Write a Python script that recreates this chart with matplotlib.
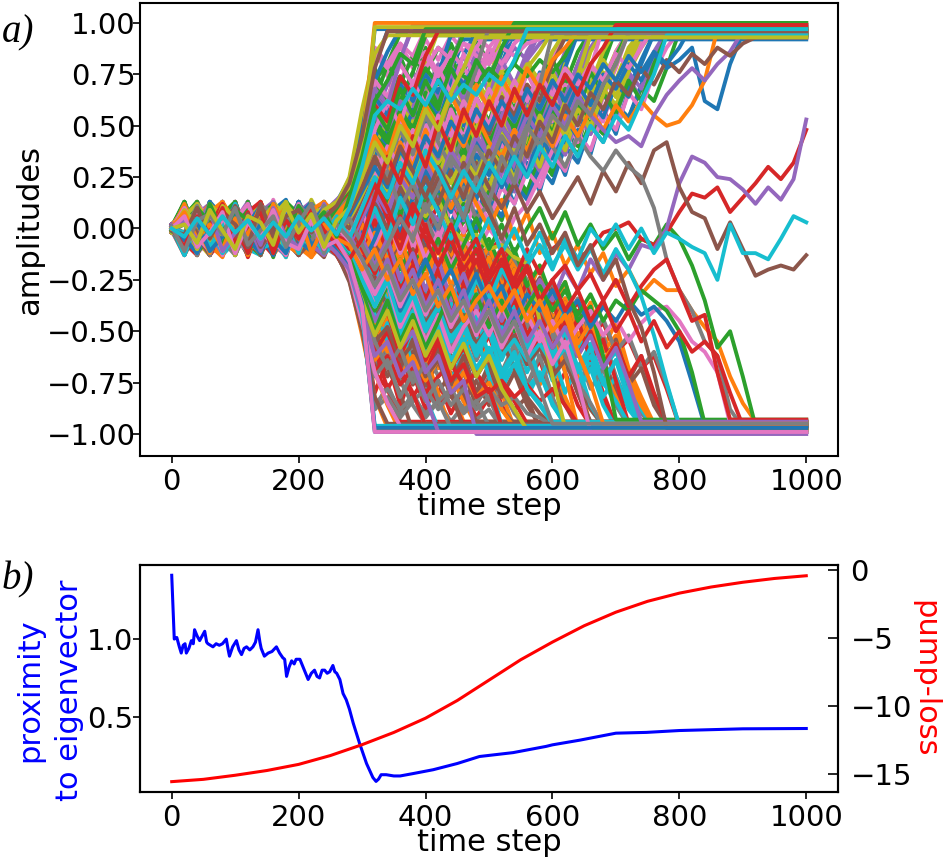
import matplotlib
matplotlib.use("Agg")
import matplotlib.pyplot as plt

# ---------------- data ----------------
# panel a: amplitudes on a 20-step time grid (hundredths); a shorter list means the
# trajectory froze at its last value and stays there until the final time step
time_grid = list(range(0, 1001, 20))
final_step = 1000

traj_p00 = [0,13,-8,4,-13,9,-2,12,-10,5,-6,13,-4,8,4,14,0,18,4,22,8,16,2,20,6,24,10,30,16,38,26,50,70,96]
traj_p01 = [1,-10,6,-13,3,11,-7,-12,9,-4,12,-11,2,-8,-6,-16,2,-20,-6,-24,-10,-18,-4,-22,-8,-26,-12,-32,-18,-40,-28,-52,-72,-96]
traj_p02 = [-1,7,-13,10,2,-9,13,-5,-11,8,-1,10,-13,6,-4,-14,-28,-12,-32,-18,-8,-22,-10,4,-2,14,4,24,16,34,28,48,40,62,80,97]
traj_p03 = [0,-9,12,-6,-12,7,4,-13,11,-3,-10,13,-7,1,8,20,32,16,36,22,10,26,12,-2,4,-12,-4,-22,-16,-34,-28,-48,-40,-62,-80,-96]
traj_p04 = [2,-5,11,-12,8,-3,-9,13,-6,10,-12,5,9,-11,10,24,40,26,44,30,48,34,52,38,56,42,60,46,64,50,70,86,97]
traj_p05 = [-1,8,-12,3,-7,13,-10,-2,12,-13,6,-5,-12,9,-12,-24,-40,-26,-44,-30,-48,-34,-52,-38,-56,-42,-60,-46,-64,-50,-70,-86,-97]
traj_p06 = [0,-11,9,6,-13,2,10,-8,-4,13,-9,3,11,-6,2,-8,6,-10,8,-6,12,-2,16,4,22,10,28,18,36,26,44,36,54,46,64,78,96]
traj_p07 = [1,12,-5,-10,9,-2,-13,6,11,-7,2,-12,8,-3,-2,8,-6,10,-8,6,-12,2,-16,-4,-22,-10,-28,-18,-36,-26,-44,-36,-54,-46,-64,-78,-96]
traj_p08 = [-2,4,-9,13,-11,7,1,-12,9,-5,13,-3,-10,12,18,34,20,38,24,42,28,46,32,40,26,44,30,48,36,54,42,62,78,96]
traj_p09 = [0,-3,10,-9,12,-12,5,3,-11,11,-8,-2,13,-9,-18,-34,-20,-38,-24,-42,-28,-46,-32,-40,-26,-44,-30,-48,-36,-54,-42,-62,-78,-96]
traj_p10 = [1,10,-6,-2,12,-13,7,-9,4,11,-12,8,-4,-13,-10,-2,10,-4,12,-2,14,0,18,4,22,8,26,12,32,18,40,26,48,36,58,46,68,82,95]
traj_p11 = [-1,-13,4,11,-6,8,-11,13,-3,-8,10,-13,6,11,10,2,-10,4,-12,2,-14,0,-18,-4,-22,-8,-26,-12,-32,-18,-40,-26,-48,-36,-58,-46,-68,-82,-95]
traj_p12 = [0,6,13,-7,-3,11,-12,2,10,-9,-5,12,-11,7,12,26,50,34,56,40,60,44,54,38,58,42,62,48,66,54,72,60,78,66,84,96]
traj_p13 = [2,-7,-13,8,3,-12,11,-4,-8,12,-2,-11,10,-6,-14,-28,-50,-34,-56,-40,-60,-44,-54,-38,-58,-42,-62,-48,-66,-54,-72,-60,-78,-66,-84,-96]
traj_p14 = [-1,9,-4,-11,13,-6,3,10,-13,5,12,-7,1,13,8,0,12,-2,8,-6,10,-4,14,4,20,10,28,18,36,26,46,36,56,48,66,80,96]
traj_p15 = [0,-6,12,-2,-10,9,-13,5,7,-12,3,-9,13,-4,-8,2,-10,4,-8,8,-6,6,-12,-2,-18,-8,-26,-16,-34,-24,-44,-34,-54,-46,-64,-80,-96]
traj_p16 = [1,-12,5,9,-8,13,-3,-10,11,-1,-13,7,4,-9,4,16,30,16,34,20,38,24,30,16,34,20,40,26,46,32,52,40,60,48,68,58,76,90,96]
traj_p17 = [-2,11,-9,-4,7,-13,10,1,-11,8,-6,13,-8,2,-4,-16,-30,-16,-34,-20,-38,-24,-30,-16,-34,-20,-40,-26,-46,-32,-52,-40,-60,-48,-68,-58,-76,-90,-96]
traj_p18 = [0,-8,12,-10,4,7,-12,11,-6,-3,12,-9,6,-13,-2,10,22,8,26,12,30,16,24,10,28,16,36,24,44,34,52,44,62,54,72,86,96]
traj_p19 = [1,5,-11,13,-7,-4,11,-13,8,1,-12,10,-5,-10,-12,-22,-34,-20,-38,-24,-42,-28,-36,-22,-40,-28,-46,-34,-52,-42,-60,-50,-68,-58,-74,-86,-96]
traj_p20 = [-1,13,-2,-12,9,3,-10,12,-13,6,9,-11,2,10,16,30,44,60,48,64,52,68,56,62,48,66,52,70,58,76,64,82,96]
traj_p21 = [0,-10,7,-5,-13,12,-8,4,-12,-1,13,-7,-11,6,-16,-30,-44,-60,-48,-64,-52,-68,-56,-62,-48,-66,-52,-70,-58,-76,-64,-82,-96]
traj_p22 = [2,-6,10,-13,1,11,-9,-2,12,-10,4,13,-12,-3,6,-6,-16,-4,-20,-8,2,-12,0,12,4,18,10,26,18,34,26,44,36,52,46,60,54,68,62,78,96]
traj_p23 = [-1,8,-13,2,13,-6,-9,10,-3,-12,11,-4,8,-13,-6,6,16,4,20,8,-2,12,0,-12,-4,-18,-10,-26,-18,-34,-26,-44,-36,-52,-46,-60,-54,-68,-62,-78,-96]
traj_p24 = [0,11,-5,8,-12,-2,13,-10,6,3,-13,9,-7,12,14,30,60,72,62,76,66,80,70,84,74,86,78,88,82,90,96]
traj_p25 = [1,-9,4,-13,10,-1,-11,12,-7,-4,10,-12,5,-12,-20,-40,-60,-72,-62,-76,-66,-80,-70,-84,-74,-86,-78,-88,-82,-90,-96]
traj_p26 = [-1,3,-12,11,-4,-10,8,5,-13,12,-7,-1,10,-8,0,-10,4,18,6,22,10,26,14,30,18,34,22,40,28,46,34,54,42,62,52,72,86,97]
traj_p27 = [0,12,-7,-3,11,-13,1,9,-10,6,-12,11,-2,-9,-4,10,-4,-18,-6,-22,-10,-26,-14,-30,-18,-34,-22,-40,-28,-46,-34,-54,-42,-62,-52,-72,-86,-97]
traj_p28 = [2,-11,8,-6,13,-9,-1,11,-12,2,7,-13,12,-5,8,22,36,22,40,26,44,30,48,34,52,38,56,42,60,46,64,50,68,56,74,64,80,94]
traj_p29 = [-2,6,-10,12,-3,-11,9,-7,13,-8,-5,12,-11,4,-8,-22,-36,-22,-40,-26,-44,-30,-48,-34,-52,-38,-56,-42,-60,-46,-64,-50,-68,-56,-74,-64,-80,-94]
traj_p30 = [0,9,-13,5,-1,12,-8,-6,10,-11,13,-3,-9,11,2,12,-2,10,-6,6,-10,4,-8,8,0,14,6,22,14,30,22,40,32,50,42,60,54,70,84,96]
traj_p31 = [1,-5,9,-12,7,-8,12,-13,3,10,-6,-11,9,-2,-10,2,-12,0,-16,-2,-20,-6,-14,-2,-20,-8,-28,-16,-36,-26,-44,-34,-52,-44,-60,-52,-70,-84,-96]
traj_p32 = [-1,12,-3,-9,11,-12,4,8,-11,13,-6,2,12,-10,10,26,46,30,50,34,54,40,60,46,64,52,70,58,76,64,82,70,86,96]
traj_p33 = [0,-12,10,-4,-8,13,-6,-11,7,-2,12,-13,-5,8,-12,-26,-46,-30,-50,-34,-54,-40,-60,-46,-64,-52,-70,-58,-76,-64,-82,-70,-86,-96]
traj_p34 = [1,7,-9,13,-12,5,-4,11,-8,-13,9,4,-10,13,22,38,24,12,28,14,32,18,36,22,40,26,44,30,48,34,54,40,60,46,66,54,74,62,82,96]
traj_p35 = [-1,-8,11,-6,12,-2,-13,8,-10,5,-12,10,-4,-13,-22,-38,-24,-12,-28,-14,-32,-18,-36,-22,-40,-26,-44,-30,-48,-34,-54,-40,-60,-46,-66,-54,-74,-62,-82,-96]
traj_p36 = [0,4,-11,9,-6,13,-10,2,12,-9,-2,11,-13,7,6,16,4,-8,6,-10,4,-6,10,-2,14,4,20,12,28,20,36,28,46,38,56,48,66,58,76,88,96]
traj_p37 = [2,-13,6,-2,10,-12,8,-7,-11,4,12,-9,1,-6,-14,-4,8,-4,10,-6,6,-10,4,-14,-4,-20,-10,-28,-18,-36,-26,-44,-34,-52,-44,-60,-52,-68,-60,-76,-96]
traj_p38 = [-1,10,-7,-12,6,11,-4,13,-9,-5,10,-12,8,3,14,28,42,30,48,34,52,38,56,42,58,46,62,50,66,54,70,58,76,64,82,72,88,96]
traj_p39 = [0,-6,13,-11,-2,8,-10,-13,5,12,-8,6,-12,-7,-16,-30,-42,-30,-48,-34,-52,-38,-56,-42,-58,-46,-62,-50,-66,-54,-70,-58,-76,-64,-82,-72,-88,-96]
traj_p40 = [1,-12,3,7,-10,12,-13,6,-4,11,-8,-12,13,-2,8,18,30,14,34,18,24,10,28,14,32,20,38,26,44,32,52,42,60,50,68,82,96]
traj_p41 = [-2,9,-6,-13,12,-4,10,-11,2,-9,13,-3,-10,11,-8,-18,-30,-14,-34,-18,-24,-10,-28,-14,-32,-20,-38,-26,-44,-32,-52,-42,-60,-50,-68,-82,-96]
traj_p42 = [0,7,-10,4,13,-8,-3,11,-12,9,2,-11,6,12,16,32,56,42,64,50,70,56,74,62,80,68,86,96]
traj_p43 = [1,-4,12,-9,-13,3,8,-12,11,-6,-13,5,-9,-12,-18,-36,-56,-42,-64,-50,-70,-56,-74,-62,-80,-68,-86,-96]
traj_p44 = [-1,11,-13,8,-5,-11,12,-3,7,-12,10,1,-8,13,4,-6,6,-8,4,-2,10,4,16,8,22,14,30,20,38,28,46,36,56,46,66,56,76,68,86,96]
traj_p45 = [0,-7,9,-12,11,5,-13,10,-2,-9,12,-6,3,-12,-4,6,-6,8,-4,2,-10,-4,-16,-8,-22,-14,-30,-20,-38,-28,-46,-36,-56,-46,-66,-56,-76,-68,-86,-96]
traj_p46 = [2,5,-12,-6,10,-9,13,-11,-1,12,-4,-13,9,2,10,24,12,30,16,36,22,42,28,46,34,52,40,58,46,64,52,70,60,78,68,86,96]
traj_p47 = [-1,-10,13,3,-8,11,-12,7,-6,-13,9,-2,-11,-4,-10,-24,-12,-30,-16,-36,-22,-42,-28,-46,-34,-52,-40,-58,-46,-64,-52,-70,-60,-78,-68,-86,-96]
traj_p48 = [0,13,-4,-10,9,-13,6,3,-11,8,-7,12,-1,-10,-2,6,20,6,26,12,32,18,40,26,34,20,38,24,44,30,50,38,58,48,68,60,76,88,97]
traj_p49 = [1,-8,10,-13,2,9,-11,-5,13,-7,-3,10,-12,4,-6,-18,-20,-6,-26,-12,-32,-18,-40,-26,-34,-20,-38,-24,-44,-30,-50,-38,-58,-48,-68,-60,-76,-88,-97]

traj_m00 = [1,-12,9,-5,13,-9,4,11,-13,6,-2,12,-8,5,12,30,50,32,55,36,62,44,68,50,74,58,80,96]
traj_m01 = [0,10,-13,4,-7,12,-11,-3,9,-14,5,-9,13,-6,-14,-30,-48,-30,-54,-36,-60,-42,-66,-50,-72,-58,-80,-97]
traj_m02 = [-1,4,-10,13,-6,2,-12,9,-4,12,-10,6,-2,13,20,40,78,62,84,68,88,72,90,76,92,80,95]
traj_m03 = [2,-8,12,-11,3,-5,10,-13,8,-3,-11,11,-7,-13,-22,-44,-80,-64,-86,-70,-88,-74,-90,-78,-92,-82,-96]
traj_m04 = [0,13,-7,2,-12,10,-4,8,-9,-1,13,-7,10,-3,2,12,20,5,25,10,30,15,36,20,42,26,48,32,55,40,64,50,74,88,97]
traj_m05 = [-1,-11,5,-6,13,-10,1,-7,12,-12,2,9,-13,4,-2,-12,-20,-5,-25,-10,-32,-15,-38,-22,-45,-28,-50,-35,-58,-42,-66,-52,-76,-88,-96]
traj_m06 = [1,7,-12,10,-2,-9,13,-6,3,11,-11,4,-5,12,18,36,66,50,72,56,76,60,80,66,84,70,88,94]
traj_m07 = [0,-6,11,-13,7,-3,-12,10,-1,-9,12,-4,-10,7,-16,-36,-66,-50,-72,-58,-76,-62,-80,-66,-84,-72,-88,-95]
traj_m08 = [-2,11,-3,-10,8,4,-13,12,-7,1,10,-12,6,9,8,22,38,22,44,28,50,34,56,40,62,46,66,52,70,58,76,64,80,70,86,97]
traj_m09 = [1,-9,13,-4,-11,9,-7,2,-13,10,-6,-1,11,-11,-10,-24,-36,-20,-42,-26,-48,-32,-54,-40,-60,-46,-64,-50,-70,-56,-74,-62,-80,-68,-86,-97]
traj_m10 = [0,3,-11,12,-8,6,10,-13,5,-4,13,-9,2,-7,6,18,56,40,62,46,70,54,76,92]
traj_m11 = [-1,12,-4,-9,11,-13,6,-2,-10,13,-8,3,-12,-4,-10,-26,-56,-42,-64,-48,-70,-56,-78,-94]
traj_m12 = [2,-7,10,-1,-13,8,-5,12,-11,3,-6,10,-13,11,14,26,8,24,6,28,12,32,16,38,22,44,30,52,38,60,46,68,56,76,66,84,96]
traj_m13 = [0,5,-12,8,-3,13,-9,-6,11,-2,-13,7,-4,-10,-6,-14,4,-12,6,-16,2,-20,-4,-26,-10,-32,-18,-40,-26,-48,-34,-56,-44,-64,-54,-74,-95]
traj_m14 = [-1,-13,7,4,-9,12,-2,-11,10,-5,8,13,-9,3,10,24,44,26,50,32,56,38,46,30,52,36,58,42,64,48,70,56,78,94]
traj_m15 = [1,9,-2,-12,6,-6,13,-10,-3,12,-11,5,-7,-12,-20,-38,-44,-26,-50,-32,-56,-38,-46,-30,-52,-36,-58,-44,-64,-50,-70,-58,-78,-95]
traj_m16 = [0,-5,13,-9,2,11,-12,7,-3,-10,11,-5,13,-1,16,34,88,74,90,78,92,82,94,86,93,88,96]
traj_m17 = [2,6,-8,11,-12,-4,9,-13,4,7,-12,1,-9,-13,-24,-48,-88,-76,-90,-80,-92,-84,-94,-86,-93,-88,-97]
traj_m18 = [-1,10,-6,-13,5,12,-8,1,13,-11,-3,9,-6,12,20,40,60,46,66,52,70,58,74,60,72,62,78,66,82,70,86,94]
traj_m19 = [0,-10,8,3,-13,-6,11,-9,-2,10,-12,-7,8,-12,-18,-38,-60,-46,-66,-52,-70,-58,-74,-60,-72,-62,-78,-66,-82,-70,-86,-95]
traj_m20 = [1,-3,9,-11,13,-7,5,-12,8,2,-9,12,-11,4,4,10,-4,12,-2,16,4,20,8,26,14,32,20,38,26,46,34,54,44,62,54,70,64,80,95]
traj_m21 = [-2,11,-7,5,-10,-1,12,-9,6,-13,7,-4,10,-8,-8,2,-10,6,-14,2,-18,-4,-22,-8,-28,-14,-34,-20,-40,-28,-48,-36,-56,-46,-64,-56,-74,-86,-96]
traj_m22 = [0,8,-12,-4,10,-11,3,13,-8,-2,12,-6,4,-13,-8,6,30,16,36,22,42,28,48,34,54,40,60,48,66,54,72,62,80,95]
traj_m23 = [1,-6,13,-10,-3,9,-13,2,11,-7,-12,8,-3,11,4,-8,-30,-16,-36,-22,-42,-28,-48,-34,-54,-40,-60,-48,-66,-54,-72,-62,-80,-96]
traj_m24 = [-1,12,2,-8,-13,7,10,-5,-11,13,-2,-9,11,-5,8,20,70,56,74,60,78,64,82,70,86,74,88,96]
traj_m25 = [0,-13,-1,9,-8,13,-4,-11,7,-6,3,-13,9,-2,-10,-24,-70,-56,-74,-60,-78,-64,-82,-70,-86,-74,-88,-96]
traj_m26 = [2,5,-11,13,-3,-9,6,12,-12,4,-7,10,-3,8,12,28,48,62,52,68,58,72,64,78,70,84,78,90,97]
traj_m27 = [-1,-4,12,-7,9,-13,2,8,-5,-11,13,-10,6,-9,-14,-30,-48,-62,-52,-68,-58,-72,-64,-78,-70,-84,-78,-90,-97]
traj_m28 = [0,11,-9,1,12,-6,-10,9,-1,-13,6,11,-9,2,6,16,34,20,40,26,46,32,40,26,46,32,52,38,58,44,64,50,70,58,76,64,84,96]
traj_m29 = [1,-11,6,-2,-9,13,-6,-12,10,3,-10,-4,12,-6,-10,-22,-34,-20,-40,-26,-46,-32,-40,-26,-46,-32,-52,-38,-58,-44,-64,-50,-70,-58,-76,-64,-84,-96]
traj_m30 = [0,-8,4,10,-12,-3,13,-4,7,-10,1,13,-7,6,14,32,52,38,60,44,66,50,72,84,96]
traj_m31 = [-2,7,-5,-12,11,3,-9,13,-13,-4,9,-11,2,-10,-16,-34,-52,-38,-60,-44,-66,-50,-72,-84,-96]
traj_m32 = [1,13,-10,-6,4,10,-7,-13,12,-3,-8,7,13,-4,2,14,26,12,30,16,34,20,38,24,42,28,46,34,52,40,58,46,62,50,66,56,72,62,80,94]
traj_m33 = [0,-2,8,-13,-5,12,-11,6,-9,13,-1,-12,-8,5,-4,-14,-26,-12,-30,-16,-34,-20,-38,-24,-42,-28,-46,-34,-52,-40,-58,-46,-62,-50,-66,-56,-72,-62,-80,-95]
traj_m34 = [-1,6,-12,8,3,-11,12,-8,-4,9,-13,4,10,-11,6,24,62,48,68,54,72,58,76,62,80,66,82,70,86,96]
traj_m35 = [1,-10,11,-3,-7,6,-13,10,-12,-1,8,-9,-13,3,-12,-28,-62,-48,-68,-54,-72,-58,-76,-62,-80,-66,-82,-70,-86,-96]
traj_m36 = [0,9,-4,12,-10,-2,8,-11,13,-7,-4,12,-1,-9,2,14,40,26,46,32,52,38,58,44,64,50,70,56,76,62,82,95]
traj_m37 = [2,-12,4,-8,13,-9,-3,11,-6,-12,10,-2,-11,8,-6,-18,-40,-26,-46,-32,-52,-38,-58,-44,-64,-50,-70,-56,-76,-62,-82,-96]
traj_m38 = [-1,-7,13,-5,-12,11,-1,-9,6,12,-10,-3,9,-12,10,26,18,36,22,42,28,50,36,56,42,62,48,68,54,74,60,80,66,86,96]
traj_m39 = [0,12,-6,7,-11,2,-13,9,3,-8,11,-13,-5,10,-8,-22,-18,-36,-22,-42,-28,-50,-36,-56,-42,-62,-48,-68,-54,-74,-60,-80,-66,-86,-96]

traj_n00 = [0,11,-4,13,6,-8,12,-1,9,14,-3,10,5,13,24,50,80,96]
traj_n01 = [1,-12,3,-8,-14,5,-10,-3,-13,2,-9,-14,-6,-12,-25,-52,-82,-97]
traj_n02 = [-1,6,13,-2,9,-9,11,4,-6,13,7,-4,12,3,15,35,62,80,95]
traj_n03 = [0,-4,8,-13,-1,10,-7,-12,5,-9,-2,9,-11,-5,-14,-32,-58,-78,-94]
traj_n04 = [2,-9,7,12,-5,4,13,-7,6,-1,12,-9,8,14,20,30,55,70,82,98]
traj_n05 = [-1,10,-6,1,-13,8,-4,-10,12,-6,-13,3,-8,-2,-16,-30,-50,-68,-80,-99]
traj_n06 = [0,-3,12,5,-11,9,1,-6,14,-2,6,11,-7,9,12,28,48,60,72,84,97]
traj_n07 = [1,7,-11,4,-6,-13,3,9,-8,-1,-12,6,-4,-13,-20,-36,-55,-65,-74,-86,-95]
traj_n08 = [-1,12,-5,8,2,-10,10,-3,13,5,-8,14,1,6,10,22,40,52,45,65,80,96]
traj_n09 = [0,-13,5,-7,11,-2,-11,6,-5,-14,8,-3,-10,4,-8,-22,-42,-55,-48,-66,-82,-97]
traj_n10 = [1,5,-10,11,-4,7,-12,8,2,-6,13,-1,9,-4,6,18,35,48,40,58,52,75,94]
traj_n11 = [-1,-8,4,12,-9,-3,8,-13,1,10,-7,-12,5,-9,-12,-26,-45,-60,-52,-70,-62,-80,-98]
traj_n12 = [0,9,-2,-11,7,13,-6,4,-9,11,3,-5,12,0,8,20,72,80,70,84,75,88,82,95]
traj_n13 = [2,-6,11,-3,-10,6,-14,2,9,-8,-1,-12,3,-8,-10,-24,-70,-78,-68,-82,-72,-86,-80,-96]
traj_n14 = [-1,-10,4,9,-5,12,-8,6,-12,3,10,-3,7,-10,-5,10,25,40,30,48,38,55,62,78,93]
traj_n15 = [0,8,-3,-12,6,-9,11,-5,2,-13,7,-8,-14,1,-6,-15,-25,-38,-28,-42,-35,-50,-62,-80,-94]
traj_n16 = [1,-5,10,-8,13,1,-4,9,-11,7,-2,12,-6,10,16,32,85,78,88,80,86,76,84,90,88,97]
traj_n17 = [-1,11,-7,2,-12,9,-3,-11,6,-6,-13,4,-10,-6,-14,-30,-86,-78,-88,-82,-90,-84,-78,-88,-84,-96]
traj_n18 = [0,3,-12,6,10,-7,5,-13,8,1,-9,10,-2,5,4,15,20,12,28,18,35,25,42,55,48,70,95]
traj_n19 = [2,-10,6,-5,-11,3,-8,11,-4,-12,2,-6,9,-3,-8,-18,-22,-10,-30,-20,-40,-30,-48,-58,-52,-72,-96]
traj_n20 = [-1,7,-6,13,-3,-10,8,-4,11,-7,5,13,-1,8,14,28,64,55,70,62,75,66,78,70,80,74,86,98]
traj_n21 = [0,-7,10,-4,-13,5,-11,1,-6,12,-9,-2,-12,-4,-16,-30,-64,-56,-72,-62,-74,-64,-80,-70,-82,-75,-88,-97]
traj_n22 = [1,12,-3,7,-9,11,-1,5,-14,9,4,-7,11,3,10,24,50,42,58,48,62,52,66,56,70,60,74,80,94]
traj_n23 = [-2,-5,12,-8,3,-11,9,-6,-13,4,-10,7,-5,-12,-20,-38,-50,-40,-58,-46,-64,-52,-68,-58,-72,-62,-76,-84,-95]
traj_n24 = [0,-11,5,8,-7,2,12,-10,4,-4,9,-12,6,11,12,5,15,5,22,12,28,18,35,25,45,35,55,68,82,96]
traj_n25 = [1,6,-9,-2,11,-12,4,7,-10,5,-13,-3,10,-8,-4,-12,-8,-18,-6,-22,-12,-28,-18,-35,-25,-45,-55,-68,-82,-98]
traj_n26 = [-1,4,11,-9,6,-3,13,-11,2,8,-6,10,-9,4,6,15,88,80,90,84,78,88,82,90,84,80,88,84,90,92,95]
traj_n27 = [0,-9,-2,11,-6,12,-10,3,-12,-5,9,-11,1,-7,-18,-40,-88,-82,-92,-84,-78,-88,-80,-90,-84,-78,-86,-82,-90,-92,-96]
traj_n28 = [2,8,-7,4,-12,10,-5,12,-3,-10,7,-1,13,-6,3,18,40,30,52,42,60,50,66,56,72,62,76,68,80,72,86,96]
traj_n29 = [-1,-7,9,-11,3,-4,11,-9,6,-12,-1,8,-6,-10,-16,-34,-38,-28,-50,-40,-58,-48,-64,-55,-70,-60,-74,-66,-78,-70,-85,-96]
traj_n30 = [0,10,-8,5,-2,12,-9,-3,10,-6,13,-4,4,-11,-4,5,12,2,18,8,24,12,30,20,36,26,44,34,52,42,60,78,95]
traj_n31 = [1,-3,8,-12,10,-7,-1,12,-8,3,-11,6,-13,2,-6,-12,-2,-15,-5,-22,-10,-28,-16,-34,-24,-40,-30,-48,-38,-55,-45,-70,-97]
traj_n32 = [-1,13,-5,-9,7,1,-12,9,-4,11,-8,5,12,-3,9,22,68,60,74,66,78,70,82,74,70,78,72,80,74,82,76,84,97]
traj_n33 = [0,-12,4,9,-10,-4,12,-7,3,-9,10,-13,-2,-9,-22,-44,-70,-62,-76,-68,-80,-72,-66,-76,-70,-80,-74,-82,-76,-84,-78,-86,-95]
traj_n34 = [1,-6,9,-4,12,-11,3,10,-8,5,-12,7,-5,12,8,18,32,22,38,28,44,34,50,40,56,46,60,52,66,58,70,64,80,96]
traj_n35 = [-2,9,-4,-13,5,8,-9,-2,11,-11,2,-5,10,-4,-12,-26,-34,-24,-40,-30,-46,-36,-50,-42,-56,-48,-60,-52,-66,-58,-72,-64,-80,-94]
traj_n36 = [0,-2,7,-10,12,-5,-11,6,3,-9,12,-1,8,-8,-2,8,-8,5,-12,2,-15,-2,-18,-5,-12,0,-8,5,12,25,38,50,62,78,98]
traj_n37 = [1,5,-13,7,-2,11,-6,-12,8,-3,-8,12,-4,9,3,12,30,18,35,22,15,28,10,20,5,12,-5,-15,-25,-38,-50,-62,-75,-85,-96]
traj_n38 = [-1,11,2,-7,9,-13,6,1,-10,13,-4,-9,6,-1,5,14,24,15,30,20,34,24,38,28,42,32,46,36,50,40,55,45,58,50,65,80,96]
traj_n39 = [0,-11,6,3,-8,12,-3,-13,7,-5,11,-9,2,-12,-20,-36,-45,-35,-52,-42,-56,-46,-60,-50,-58,-48,-62,-54,-64,-56,-66,-58,-70,-62,-75,-84,-95]
traj_n40 = [2,-4,10,-12,4,8,-6,11,-2,-8,13,1,-5,10,22,46,72,86,97]
traj_n41 = [-1,12,-6,3,-11,7,-13,2,10,-7,-2,-14,6,-11,-22,-45,-70,-86,-99]
traj_n42 = [0,-12,6,-1,9,-7,13,-5,-10,8,2,-4,12,-2,10,26,52,44,62,76,94]
traj_n43 = [1,9,-3,-10,5,-2,-9,12,-6,-13,4,10,-7,-13,-24,-46,-60,-50,-68,-80,-96]
traj_n44 = [-2,7,-12,5,11,-3,-8,8,13,-5,7,-10,3,9,14,30,55,48,62,55,70,62,78,98]
traj_n45 = [0,-5,11,-9,2,-12,7,-4,-1,10,-13,-6,8,-5,-10,-26,-55,-48,-64,-56,-72,-64,-80,-97]
traj_n46 = [1,10,-4,3,-13,6,11,-7,-2,12,-9,4,-12,7,12,26,72,64,80,70,84,74,86,78,88,82,96]
traj_n47 = [-1,-9,7,-13,4,-5,-10,13,-8,1,-11,6,-3,-12,-18,-32,-72,-64,-82,-70,-84,-74,-86,-78,-88,-82,-97]
traj_n48 = [0,6,-11,9,-4,-9,5,12,-6,3,-10,13,-8,2,12,26,45,36,55,44,60,50,64,54,68,58,72,62,78,86,96]
traj_n49 = [1,-13,3,-6,12,-1,-12,5,-9,7,-4,-10,11,-5,-8,-20,-45,-36,-55,-44,-60,-50,-64,-54,-68,-58,-72,-62,-78,-86,-95]

traj_00 = [0,8,-3,10,4,-6,9,2,11,-2,7,12,3,10,16,38,97]
traj_01 = [1,-6,4,-9,-2,6,-11,-3,5,-8,-12,2,-7,-10,-18,-40,-98]
traj_02 = [-1,5,11,-4,3,9,-7,6,12,0,8,-5,9,4,14,30,45,38,55,48,66,58,80,95]
traj_03 = [2,-4,7,-10,1,-7,5,-12,-3,6,-9,-1,-11,-6,-18,-35,-52,-40,-62,-48,-70,-55,-74,-66,-82,-78,-96]
traj_04 = [0,-7,4,11,-2,8,-5,12,1,-9,6,10,-3,8,20,42,68,60,82,99]
traj_05 = [-1,9,-5,3,-10,6,-2,-13,4,-6,8,-9,-4,-12,-26,-50,-82,-95]
traj_06 = [1,4,-9,7,12,-3,10,-6,2,9,-8,5,11,-2,8,25,48,62,50,72,60,78,66,85,72,88,80,90,96]
traj_07 = [0,-10,3,-5,8,-12,-1,7,-9,2,-6,-11,5,-8,-15,-32,-55,-68,-58,-75,-66,-84,-97]
traj_08 = [-2,6,12,2,-5,9,4,-8,10,6,-3,11,7,12,25,58,85,94]
traj_09 = [1,-3,6,-8,2,-11,7,-4,-10,3,-7,1,-9,-3,-8,-20,-35,-22,-40,-30,-48,-38,-55,-45,-62,-50,-70,-60,-78,-85,-94]
traj_10 = [0,-5,-12,3,-8,5,-10,-2,-13,1,-6,-11,-4,-9,-20,-40,-99]
traj_11 = [1,10,-2,8,13,3,-6,9,5,12,-1,9,13,6,18,40,100]
traj_12 = [-1,3,-8,9,-4,6,-12,0,8,-7,4,-10,2,-5,-3,10,25,12,30,18,5,20,-2,10,-12,-5,-20,-10,-28,-18,-35,-26,-45,-38,-62,-93]
traj_13 = [0,7,-6,2,11,-4,8,13,-1,5,10,-8,6,11,18,38,60,52,74,65,84,96]
traj_14 = [2,-9,5,-3,-12,4,-7,9,-11,-2,6,-8,-13,-1,-12,-28,-45,-35,-58,-50,-70,-62,-80,-74,-100]
traj_15 = [-1,2,9,-7,5,-3,11,-9,3,8,-4,10,-6,4,10,20,32,22,40,28,46,35,52,40,58,46,64,55,70,62,80,93]
traj_16 = [0,8,-4,-11,6,-2,-9,4,-6,-13,3,-5,-10,-7,-22,-46,-70,-85,-96]
traj_17 = [1,-8,6,3,-10,7,-4,11,8,-3,12,4,-2,9,12,26,40,30,48,36,55,44,66,58,78,98]
traj_18 = [0,4,-10,7,-1,-8,10,-5,1,-11,5,-3,8,-6,-2,8,20,10,24,12,6,14,0,-6,-3,-10,-8,-14,-17,-45,-72,-97]
traj_19 = [-1,-6,8,2,-12,-4,6,-10,-7,3,-9,-2,-12,-7,-20,-42,-96]
traj_20 = [0,3,-7,10,-4,6,-10,2,8,-6,11,-3,4,-8,-10,-18,-5,10,-4,15,28,18,35,25,42,35,50,40,58,48,62,55,70,60,75,68,80,72,85,78,82,88,62,58,80,95]
traj_21 = [1,-7,2,-12,5,-4,9,-9,-2,7,-10,3,-6,2,-5,5,20,8,30,15,35,22,10,25,12,0,14,-5,8,-12,-2,-18,-8,-22,-12,-28,-20,-32,-25,-30,-30,-40,-48,-55,-72,-85,-94]
traj_22 = [-1,5,-3,8,-9,1,6,-12,4,-5,10,-7,1,-4,-12,-28,-40,-28,-15,-30,-18,-5,-20,-8,5,-10,2,-12,0,10,-5,8,-8,2,-10,-2,-15,-5,-8,2,-5,-18,-35,-58,-50,-72,-96]
traj_23 = [0,-4,9,-2,6,-10,3,8,-5,11,-1,-8,5,0,5,-10,-22,-8,-30,-18,-35,-20,-42,-28,-15,-30,-18,-25,-10,-22,-10,-5,-15,-10,-2,0,3,-5,-8,-2,8,17,15,20,8,15,22,30,24,32,48]
traj_24 = [1,6,-5,9,-8,3,12,-2,-9,5,-4,10,-6,3,8,-5,-18,-5,-25,-12,-30,-15,-35,-22,-40,-28,-45,-32,-38,-25,-35,-20,-30,-15,-25,-12,-20,-8,-10,0,22,35,32,25,24,19,12,20,14,24,53]
traj_25 = [-1,-5,7,-9,3,10,-4,6,-11,1,9,-6,4,-3,-15,-6,12,0,20,8,25,12,28,15,32,20,10,22,8,18,5,15,25,12,28,18,32,22,38,42,20,8,5,-10,3,-10,-23,-20,-18,-20,-13]
traj_26 = [0,9,-6,4,-11,7,-1,-8,5,-4,12,-9,6,-2,-8,-20,-38,-26,-48,-35,-55,-42,-60,-48,-40,-52,-38,-50,-42,-55,-45,-58,-48,-40,-52,-44,-55,-46,-40,-38,-45,-55,-60,-70,-95]
traj_27 = [1,-2,11,-5,2,-9,8,-3,10,-7,-1,7,-12,5,10,25,42,30,50,38,55,42,30,45,28,40,30,48,35,45,40,30,45,35,28,38,30,25,10,-15,-30,-40,-55,-62,-88,-97]
traj_28 = [-1,8,-4,12,5,-7,10,-2,6,13,-5,3,9,-1,5,15,28,18,35,25,40,30,22,35,25,40,30,48,38,55,45,62,75,94]
traj_29 = [0,2,-8,5,-3,9,-6,1,7,-10,4,-2,10,-5,-12,-25,-38,-25,-45,-32,-50,-38,-28,-40,-25,-35,-20,-30,-18,-8,-20,-5,-15,0,-8,2,-10,0,-12,-2,-5,-9,-12,-25,2,-12,-12,-15,-5,6,3]
traj_30 = [1,-3,6,-10,2,8,-5,-12,3,-7,5,-1,-9,4,-5,-15,-30,-18,-40,-28,-15,-30,-20,-35,-22,-38,-28,-45,-32,-40,-30,-42,-35,-48,-38,-45,-35,-42,-38,-45,-55,-75,-96]
traj_31 = [0,5,-9,3,10,-4,7,-10,1,8,-6,11,-3,6,12,22,35,25,42,30,48,35,50,40,55,42,35,48,38,52,40,55,45,58,48,60,52,62,55,50,52,60,72,97]
traj_32 = [-1,7,-2,-9,5,-6,11,-4,2,-8,6,-11,3,-6,-14,-30,-50,-35,-55,-42,-58,-45,-30,-45,-32,-48,-35,-50,-38,-28,-40,-30,-42,-32,-45,-35,-40,-30,-35,-40,-50,-70,-95]
traj_33 = [0,-9,4,8,-6,1,-12,6,-3,9,-5,2,-8,-2,-10,5,20,5,-10,8,-5,-18,-5,-20,-10,-25,-15,-30,-20,-35,-25,-18,-30,-22,-35,-25,-38,-28,-20,-15,-30,-45,-42,-70,-93]
traj_34 = [1,-6,3,11,-7,5,-2,9,-11,2,7,-4,12,-3,-8,5,18,8,25,15,32,20,38,28,45,35,50,40,55,45,60,50,65,55,48,42,45,40,55,65,72,78,72,80,86,96]
traj_35 = [-1,4,-8,6,-3,11,2,-7,9,-4,1,8,-10,5,0,12,25,15,30,20,10,25,15,32,22,38,28,45,35,52,42,60,50,66,58,72,65,78,70,82,76,85,80,88,84,90,93]
traj_36 = [0,10,-3,6,-9,4,12,-5,8,-2,-10,6,3,-7,-4,10,25,40,30,48,38,55,45,62,52,68,58,72,62,75,65,78,70,80,72,85,78,88,98]
traj_37 = [1,-4,8,-11,4,7,-6,3,-9,10,-3,5,-7,8,15,30,15,28,10,22,8,20,35,25,40,30,45,35,50,40,55,48,62,55,70,80,95]
traj_38 = [0,6,-10,2,-5,9,-8,4,11,-6,-1,8,-4,-11,-18,-35,-52,-40,-58,-45,-62,-50,-68,-56,-72,-62,-78,-88,-98]
traj_39 = [-1,3,-6,10,-2,-9,5,-3,8,-12,1,-7,4,-5,-15,-6,10,-5,15,2,20,8,-5,10,-8,5,-12,0,-15,-2,-18,-8,-20,-10,-22,-10,-20,-33,-52,-75,-96]
traj_40 = [0,-8,5,-1,9,-6,2,11,-4,7,-9,3,10,-2,6,18,30,20,38,28,45,35,52,42,58,48,62,52,68,58,72,62,75,68,80,72,84,76,86,80,88,99]
traj_41 = [1,7,-4,9,-10,3,6,-7,12,0,-5,9,-2,7,14,28,45,35,55,42,60,48,65,52,70,58,74,62,78,68,82,88,96]
traj_42 = [-1,-5,10,3,-8,6,-3,9,-12,4,8,-6,1,10,20,38,58,48,68,55,72,60,78,66,82,72,88,100]
traj_43 = [0,4,-7,1,12,-5,8,-10,3,-2,9,-9,5,-4,-6,8,22,10,-5,12,0,-12,2,-15,-5,-22,-10,-28,-18,-35,-25,-40,-30,-45,-35,-50,-40,-55,-45,-58,-50,-60,-55,-62,-80,-96]
traj_44 = [1,-10,6,-3,8,-7,2,-11,5,-6,10,-2,-8,3,-3,-15,-28,-15,-32,-20,-38,-25,-42,-30,-48,-35,-52,-40,-55,-45,-58,-48,-62,-52,-68,-58,-75,-94]
traj_45 = [-1,6,-2,-8,10,-4,7,-9,0,5,-11,8,-5,2,8,20,35,22,40,28,15,30,18,5,20,8,-5,10,-8,2,-12,-2,-18,-8,-25,-15,-35,-48,-70,-97]
traj_46 = [0,-7,9,-4,3,-12,6,-1,-8,11,-3,4,-10,1,-6,-18,-32,-20,-38,-25,-42,-30,-48,-36,-52,-40,-58,-46,-62,-50,-66,-55,-75,-99]
traj_47 = [1,3,-9,7,-2,10,-6,4,-10,6,2,-7,11,-3,5,-8,-20,-8,5,-5,12,0,18,5,25,12,35,22,48,70,95]
traj_48 = [-1,9,2,-6,11,5,-3,8,-7,12,4,-1,9,13,20,38,98]
traj_49 = [0,-2,5,-9,1,8,-3,10,-6,2,-12,7,-4,6,-5,10,25,15,32,22,38,28,15,28,18,32,22,35,25,40,30,45,35,50,42,55,48,62,75,94]
traj_50 = [1,-6,3,-11,-4,7,-9,2,-5,-12,6,-8,-3,-11,-18,-36,-97]
traj_51 = [0,8,-5,2,-10,5,-3,11,-7,-1,8,-12,2,-5,-8,-20,-10,-25,-15,-32,-22,-38,-28,-45,-35,-28,-40,-30,-45,-35,-50,-42,-60,-75,-95]
traj_52 = [-1,5,-8,12,-2,9,4,-6,7,-3,11,1,8,-4,15,35,62,72,85,80,97]
traj_53 = [0,-9,6,-3,10,-7,1,8,-12,4,-5,9,-1,-8,-15,-5,15,35,22,45,30,52,38,58,45,62,50,68,55,70,60,75,65,80,88,99]
traj_54 = [1,4,-6,9,-11,-2,5,-8,10,-4,-9,3,-6,-12,-20,-40,-62,-55,-72,-65,-82,-99]
traj_55 = [-1,-3,10,-5,7,2,-9,12,-4,6,9,-2,5,11,22,45,78,96]
traj_56 = [0,6,-9,-2,8,-12,3,-5,9,-7,-10,4,-9,-6,-16,-38,-99]
traj_57 = [1,-11,4,7,-3,10,-8,-1,6,-9,3,12,-5,2,-5,-15,-28,-18,-35,-25,-40,-30,-45,-35,-50,-40,-55,-45,-62,-78,-95]
traj_58 = [0,2,-7,9,-1,-10,6,3,-8,11,-2,7,-9,4,10,25,42,32,50,40,58,48,66,78,93]
traj_59 = [0,-4,5,-3,6,-2,4,-5,3,-4,6,-1,5,-3,10,30,55,62,58,68,60,72,62,70,65,75,70,82,97]

trajectories = [
    traj_p00, traj_p01, traj_p02, traj_p03, traj_p04, traj_p05, traj_p06, traj_p07, traj_p08, traj_p09,
    traj_p10, traj_p11, traj_p12, traj_p13, traj_p14, traj_p15, traj_p16, traj_p17, traj_p18, traj_p19,
    traj_p20, traj_p21, traj_p22, traj_p23, traj_p24, traj_p25, traj_p26, traj_p27, traj_p28, traj_p29,
    traj_p30, traj_p31, traj_p32, traj_p33, traj_p34, traj_p35, traj_p36, traj_p37, traj_p38, traj_p39,
    traj_p40, traj_p41, traj_p42, traj_p43, traj_p44, traj_p45, traj_p46, traj_p47, traj_p48, traj_p49,
    traj_m00, traj_m01, traj_m02, traj_m03, traj_m04, traj_m05, traj_m06, traj_m07, traj_m08, traj_m09,
    traj_m10, traj_m11, traj_m12, traj_m13, traj_m14, traj_m15, traj_m16, traj_m17, traj_m18, traj_m19,
    traj_m20, traj_m21, traj_m22, traj_m23, traj_m24, traj_m25, traj_m26, traj_m27, traj_m28, traj_m29,
    traj_m30, traj_m31, traj_m32, traj_m33, traj_m34, traj_m35, traj_m36, traj_m37, traj_m38, traj_m39,
    traj_n00, traj_n01, traj_n02, traj_n03, traj_n04, traj_n05, traj_n06, traj_n07, traj_n08, traj_n09,
    traj_n10, traj_n11, traj_n12, traj_n13, traj_n14, traj_n15, traj_n16, traj_n17, traj_n18, traj_n19,
    traj_n20, traj_n21, traj_n22, traj_n23, traj_n24, traj_n25, traj_n26, traj_n27, traj_n28, traj_n29,
    traj_n30, traj_n31, traj_n32, traj_n33, traj_n34, traj_n35, traj_n36, traj_n37, traj_n38, traj_n39,
    traj_n40, traj_n41, traj_n42, traj_n43, traj_n44, traj_n45, traj_n46, traj_n47, traj_n48, traj_n49,
    traj_00, traj_01, traj_02, traj_03, traj_04, traj_05, traj_06, traj_07, traj_08, traj_09,
    traj_10, traj_11, traj_12, traj_13, traj_14, traj_15, traj_16, traj_17, traj_18, traj_19,
    traj_20, traj_21, traj_22, traj_23, traj_24, traj_25, traj_26, traj_27, traj_28, traj_29,
    traj_30, traj_31, traj_32, traj_33, traj_34, traj_35, traj_36, traj_37, traj_38, traj_39,
    traj_40, traj_41, traj_42, traj_43, traj_44, traj_45, traj_46, traj_47, traj_48, traj_49,
    traj_50, traj_51, traj_52, traj_53, traj_54, traj_55, traj_56, traj_57, traj_58, traj_59]

# panel b: proximity to eigenvector (left axis)
prox_t = [0,4,8,12,15,18,21,23,27,31,34,36,40,44,48,52,55,57,61,65,70,75,80,86,89,91,96,102,106,110,
          114,118,123,128,132,136,139,141,146,152,158,165,170,175,178,181,185,189,193,196,202,207,212,
          215,220,225,229,233,237,241,245,249,254,257,260,265,270,275,280,286,296,307,317,322,326,330,
          338,350,360,380,412,450,485,538,590,600,643,700,748,800,900,1000]
prox_v = [1.41,1.00,1.01,0.95,0.91,0.96,0.97,0.91,0.94,0.99,0.97,1.06,1.02,0.99,1.02,1.05,0.98,0.97,0.96,
          0.95,0.97,0.96,0.97,1.00,0.93,0.89,0.95,0.99,0.93,0.90,0.94,0.95,0.93,0.95,0.98,1.06,0.98,0.94,
          0.89,0.91,0.92,0.95,0.91,0.88,0.87,0.76,0.82,0.86,0.84,0.87,0.87,0.82,0.77,0.74,0.78,0.80,0.76,
          0.75,0.80,0.80,0.78,0.79,0.83,0.79,0.78,0.74,0.65,0.61,0.55,0.46,0.33,0.20,0.11,0.085,0.10,0.128,
          0.128,0.12,0.12,0.135,0.16,0.20,0.245,0.27,0.31,0.32,0.35,0.395,0.40,0.412,0.423,0.425]

# panel b: pump-loss (right axis)
pump_t = [0,50,100,150,200,250,300,350,400,450,500,550,600,650,700,750,800,850,900,950,1000]
pump_v = [-15.57,-15.4,-15.1,-14.75,-14.3,-13.65,-12.85,-11.95,-10.9,-9.6,-8.1,-6.6,-5.3,-4.1,-3.1,
          -2.3,-1.7,-1.25,-0.9,-0.62,-0.42]

# ---------------- figure ----------------
TICK = 21
LAB = 22
fig = plt.figure(figsize=(9.44, 8.63), dpi=100)
ax1 = fig.add_axes([0.1483, 0.4716, 0.7394, 0.5249])
ax2 = fig.add_axes([0.1483, 0.0823, 0.7394, 0.2630])
ax3 = ax2.twinx()

for vals in trajectories:
    n = len(vals)
    xs = time_grid[:n]
    ys = [v / 100.0 for v in vals]
    if n < len(time_grid):
        xs = xs + [final_step]
        ys = ys + [ys[-1]]
    ax1.plot(xs, ys, lw=2.8, solid_joinstyle="round")

ax1.set_xlim(-50, 1050)
ax1.set_ylim(-1.107, 1.097)
ax1.set_yticks([-1.0, -0.75, -0.5, -0.25, 0.0, 0.25, 0.5, 0.75, 1.0])
ax1.set_xticks([0, 200, 400, 600, 800, 1000])
ax1.tick_params(axis="both", labelsize=TICK, length=5, width=1.2)
ax1.tick_params(axis="y", pad=-2)
ax1.set_xlabel("time step", fontsize=LAB, labelpad=-3)
ax1.set_ylabel("amplitudes", fontsize=LAB, labelpad=2)

ax2.plot(prox_t, prox_v, color="blue", lw=2.2)
ax3.plot(pump_t, pump_v, color="red", lw=2.2)
ax2.set_xlim(-50, 1050)
ax2.set_ylim(0.017, 1.476)
ax3.set_ylim(-16.33, 0.37)
ax2.set_xticks([0, 200, 400, 600, 800, 1000])
ax2.set_yticks([0.5, 1.0])
ax3.set_yticks([-15, -10, -5, 0])
ax2.tick_params(axis="both", labelsize=TICK, length=5, width=1.2)
ax2.tick_params(axis="y", pad=0)
ax3.tick_params(axis="y", labelsize=TICK, direction="in", length=7, width=1.2, pad=9)
ax2.set_xlabel("time step", fontsize=LAB, labelpad=-3)
# two-line left label, each line centred on the same height
ax2.text(-0.1576, 0.449, "proximity", transform=ax2.transAxes, rotation=90,
         ha="center", va="center", fontsize=LAB, color="blue")
ax2.text(-0.1003, 0.449, "to eigenvector", transform=ax2.transAxes, rotation=90,
         ha="center", va="center", fontsize=LAB, color="blue")
ax3.set_ylabel("pump-loss", fontsize=LAB, color="red", rotation=270)
ax3.yaxis.label.set_va("center")
ax3.yaxis.set_label_coords(1.1246, 0.5)

for ax in (ax1, ax2, ax3):
    for s in ax.spines.values():
        s.set_linewidth(1.5)

fig.text(0.002, 0.962, "a)", fontsize=28, family="Liberation Serif", style="italic", va="center")
fig.text(0.002, 0.328, "b)", fontsize=28, family="Liberation Serif", style="italic", va="center")

fig.savefig("out.png", dpi=100)
